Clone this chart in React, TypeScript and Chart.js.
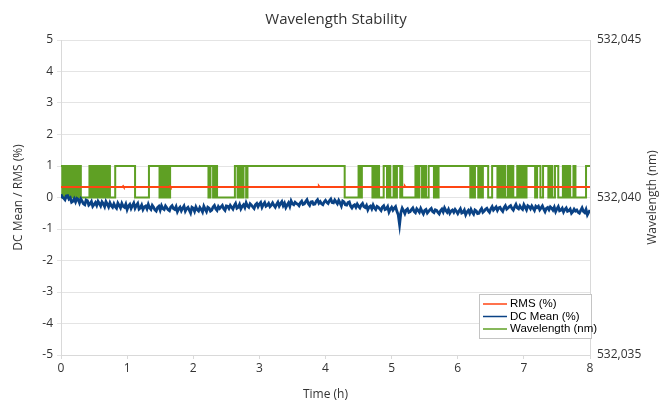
import React, { useEffect, useRef } from "react";
import { Chart, registerables } from "chart.js";

Chart.register(...registerables);

const chartTitle = "Wavelength Stability";
const xAxisTitle = "Time (h)";
const leftAxisTitle = "DC Mean / RMS (%)";
const rightAxisTitle = "Wavelength (nm)";
const seriesNames = ["RMS (%)", "DC Mean (%)", "Wavelength (nm)"];

const timeRange = [0, 8];
const leftAxisRange = [-5, 5];
const rightAxisRange = [532.035, 532.045];
const rightAxisStep = 0.005;

// DC mean (%), one reading every 0.02 h (20 readings per row = 0.4 h)
const dcSampleHours = 0.02;
const dcMean = [
  0.10, 0.01, -0.02, -0.07, 0.05, 0.06, -0.05, -0.01, -0.15, -0.12, -0.04, -0.14, -0.03, -0.06, -0.17, -0.05, -0.12, -0.20, -0.23, -0.08,
  -0.10, -0.24, -0.20, -0.13, -0.28, -0.22, -0.16, -0.25, -0.12, -0.19, -0.27, -0.14, -0.20, -0.29, -0.13, -0.21, -0.30, -0.17, -0.26, -0.31,
  -0.20, -0.29, -0.34, -0.18, -0.25, -0.33, -0.19, -0.28, -0.31, -0.21, -0.38, -0.27, -0.22, -0.35, -0.26, -0.18, -0.34, -0.25, -0.19, -0.37,
  -0.33, -0.24, -0.38, -0.30, -0.27, -0.36, -0.22, -0.33, -0.38, -0.25, -0.31, -0.39, -0.43, -0.32, -0.28, -0.40, -0.26, -0.35, -0.38, -0.27,
  -0.33, -0.39, -0.42, -0.30, -0.26, -0.35, -0.38, -0.29, -0.45, -0.36, -0.31, -0.42, -0.34, -0.27, -0.43, -0.35, -0.31, -0.40, -0.49, -0.31,
  -0.34, -0.44, -0.30, -0.39, -0.43, -0.32, -0.38, -0.46, -0.28, -0.37, -0.45, -0.31, -0.34, -0.43, -0.40, -0.30, -0.25, -0.36, -0.41, -0.29,
  -0.35, -0.30, -0.25, -0.36, -0.41, -0.27, -0.28, -0.35, -0.25, -0.31, -0.37, -0.26, -0.19, -0.34, -0.31, -0.22, -0.36, -0.28, -0.23, -0.32,
  -0.17, -0.27, -0.31, -0.20, -0.24, -0.30, -0.35, -0.23, -0.19, -0.29, -0.21, -0.16, -0.31, -0.22, -0.16, -0.28, -0.25, -0.19, -0.29, -0.24,
  -0.17, -0.25, -0.31, -0.22, -0.15, -0.27, -0.19, -0.13, -0.26, -0.18, -0.32, -0.24, -0.17, -0.28, -0.11, -0.20, -0.23, -0.15, -0.19, -0.21,
  -0.26, -0.17, -0.12, -0.22, -0.20, -0.13, -0.07, -0.19, -0.25, -0.14, -0.13, -0.22, -0.21, -0.12, -0.07, -0.18, -0.13, -0.20, -0.23, -0.14,
  -0.09, -0.15, -0.19, -0.10, -0.05, -0.16, -0.17, -0.08, -0.14, -0.20, -0.09, -0.17, -0.27, -0.11, -0.14, -0.23, -0.24, -0.16, -0.14, -0.27,
  -0.33, -0.26, -0.23, -0.31, -0.21, -0.28, -0.33, -0.24, -0.19, -0.29, -0.32, -0.25, -0.39, -0.30, -0.27, -0.36, -0.24, -0.33, -0.38, -0.28,
  -0.31, -0.36, -0.41, -0.30, -0.26, -0.38, -0.36, -0.29, -0.46, -0.37, -0.31, -0.40, -0.34, -0.29, -0.44, -0.55, -0.86, -0.48, -0.34, -0.42,
  -0.51, -0.40, -0.36, -0.47, -0.45, -0.38, -0.33, -0.44, -0.48, -0.36, -0.41, -0.47, -0.35, -0.44, -0.52, -0.41, -0.38, -0.49, -0.44, -0.39,
  -0.35, -0.45, -0.48, -0.39, -0.41, -0.47, -0.52, -0.42, -0.37, -0.46, -0.33, -0.41, -0.47, -0.38, -0.50, -0.43, -0.40, -0.47, -0.38, -0.44,
  -0.51, -0.43, -0.36, -0.49, -0.47, -0.40, -0.55, -0.46, -0.41, -0.50, -0.38, -0.47, -0.53, -0.40, -0.43, -0.51, -0.50, -0.41, -0.35, -0.47,
  -0.43, -0.37, -0.34, -0.42, -0.47, -0.36, -0.29, -0.40, -0.35, -0.30, -0.41, -0.33, -0.31, -0.39, -0.44, -0.32, -0.26, -0.37, -0.33, -0.29,
  -0.26, -0.35, -0.40, -0.30, -0.22, -0.33, -0.36, -0.27, -0.34, -0.38, -0.23, -0.31, -0.39, -0.26, -0.29, -0.36, -0.27, -0.34, -0.41, -0.28,
  -0.32, -0.28, -0.39, -0.33, -0.27, -0.37, -0.45, -0.35, -0.32, -0.39, -0.30, -0.34, -0.40, -0.31, -0.45, -0.36, -0.29, -0.42, -0.40, -0.34,
  -0.46, -0.38, -0.33, -0.44, -0.42, -0.37, -0.50, -0.45, -0.37, -0.43, -0.40, -0.47, -0.50, -0.41, -0.33, -0.44, -0.48, -0.38, -0.55, -0.47,
  -0.40,
];

// RMS (%)
const rmsTimes = [0, 0.93, 0.94, 0.95, 1.64, 1.65, 1.66, 3.89, 3.9, 3.91, 5.19, 5.2, 5.21, 8];
const rmsValues = [0.33, 0.33, 0.36, 0.33, 0.33, 0.36, 0.33, 0.33, 0.36, 0.33, 0.33, 0.36, 0.33, 0.33];

// Wavelength (nm): value held from each time until the next one
const HI = 532.041;
const LO = 532.04;
const wlTimes = [
  0, 0.02, 0.04, 0.06, 0.09, 0.11, 0.13, 0.16, 0.18, 0.2, 0.23, 0.25, 0.27, 0.3,
  0.43, 0.45, 0.48, 0.5, 0.52, 0.55, 0.57, 0.6, 0.62, 0.64, 0.67, 0.69, 0.72, 0.74,
  0.82, 1.12, 1.33,
  1.49, 1.51, 1.54, 1.56, 1.58, 1.61, 1.63, 1.65,
  2.23, 2.26, 2.3, 2.33, 2.36,
  2.63, 2.67, 2.7, 2.73, 2.76, 2.8, 2.82,
  4.29, 4.5, 4.52, 4.55, 4.71, 4.73, 4.76, 4.78, 4.81, 4.88, 4.93, 4.95, 4.98, 5.03, 5.05, 5.08, 5.13, 5.14, 5.16,
  5.36, 5.39, 5.42, 5.46, 5.49, 5.52, 5.56, 5.64, 5.66, 5.69, 5.71,
  6.19, 6.21, 6.23, 6.26, 6.31, 6.33, 6.36, 6.38, 6.46, 6.52, 6.6, 6.62, 6.64, 6.66, 6.68, 6.7, 6.72, 6.76, 6.79, 6.81, 6.84, 6.9, 6.92, 6.94, 6.97, 6.99, 7.02, 7.04,
  7.17, 7.2, 7.25, 7.29, 7.37, 7.4, 7.43, 7.47, 7.52, 7.59, 7.61, 7.63, 7.66, 7.68, 7.7, 7.75, 7.78, 7.94,
  8,
];
const wlValues = [
  HI, LO, HI, LO, HI, LO, HI, LO, HI, LO, HI, LO, HI, LO,
  HI, LO, HI, LO, HI, LO, HI, LO, HI, LO, HI, LO, HI, LO,
  HI, LO, HI,
  LO, HI, LO, HI, LO, HI, LO, HI,
  LO, HI, LO, HI, LO,
  HI, LO, HI, LO, HI, LO, HI,
  LO, HI, LO, HI, LO, HI, LO, HI, LO, HI, LO, HI, LO, HI, LO, HI, LO, HI, LO,
  HI, LO, HI, LO, HI, LO, HI, LO, HI, LO, HI,
  LO, HI, LO, HI, LO, HI, LO, HI, LO, HI, LO, HI, LO, HI, LO, HI, LO, HI, LO, HI, LO, HI, LO, HI, LO, HI, LO, HI,
  LO, HI, LO, HI, LO, HI, LO, HI, LO, HI, LO, HI, LO, HI, LO, HI, LO, HI,
  HI,
];

const colors = ["#ff4513", "#0a4285", "#5fa024"];
const textColor = "#333333";
const FONT = '"Open Sans", sans-serif';

const overlayPlugin = {
  id: "overlay",
  afterDraw(chart: any) {
    const ctx = chart.ctx as CanvasRenderingContext2D;
    ctx.save();
    // title
    ctx.fillStyle = textColor;
    ctx.font = `15px ${FONT}`;
    ctx.textAlign = "center";
    ctx.textBaseline = "middle";
    ctx.fillText(chartTitle, 336, 20);
    // right axis title (reads bottom to top)
    const area = chart.chartArea;
    ctx.save();
    ctx.translate(653, (area.top + area.bottom) / 2);
    ctx.rotate(-Math.PI / 2);
    ctx.font = `12px ${FONT}`;
    ctx.fillText(rightAxisTitle, 0, 0);
    ctx.restore();
    // legend box
    const bx = 479.5, by = 294.5, bw = 112, bh = 44;
    ctx.fillStyle = "#ffffff";
    ctx.fillRect(bx, by, bw, bh);
    ctx.strokeStyle = "#c4c4c4";
    ctx.lineWidth = 1;
    ctx.strokeRect(bx, by, bw, bh);
    ctx.font = '11.5px "Liberation Sans", Arial, sans-serif';
    ctx.textAlign = "left";
    ctx.textBaseline = "middle";
    chart.data.datasets.forEach((ds: any, i: number) => {
      const y = 304 + i * 12.5;
      ctx.strokeStyle = ds.borderColor;
      ctx.lineWidth = 1.5;
      ctx.beginPath();
      ctx.moveTo(483, y);
      ctx.lineTo(507, y);
      ctx.stroke();
      ctx.fillStyle = "#000000";
      ctx.fillText(ds.label, 510, y);
    });
    ctx.restore();
  },
};

export default function App() {
  const canvasRef = useRef<HTMLCanvasElement | null>(null);

  useEffect(() => {
    if (!canvasRef.current) return;
    const dcData = dcMean.map((v, i) => ({ x: i * dcSampleHours, y: v }));
    const rmsData = rmsTimes.map((t, i) => ({ x: t, y: rmsValues[i] }));
    const wlData = wlTimes.map((t, i) => ({ x: t, y: wlValues[i] }));

    const chart = new Chart(canvasRef.current, {
      type: "line",
      data: {
        datasets: [
          {
            label: seriesNames[0],
            data: rmsData,
            borderColor: colors[0],
            backgroundColor: colors[0],
            borderWidth: 2,
            pointRadius: 0,
            yAxisID: "y",
            tension: 0,
          },
          {
            label: seriesNames[1],
            data: dcData,
            borderColor: colors[1],
            backgroundColor: colors[1],
            borderWidth: 2.8,
            pointRadius: 0,
            yAxisID: "y",
            tension: 0,
          },
          {
            label: seriesNames[2],
            data: wlData,
            borderColor: colors[2],
            backgroundColor: colors[2],
            borderWidth: 2,
            pointRadius: 0,
            yAxisID: "y2",
            stepped: true,
          },
        ],
      },
      options: {
        animation: false,
        responsive: false,
        devicePixelRatio: 1,
        layout: { padding: { top: 40, left: 0, right: 0, bottom: 0 } },
        plugins: {
          legend: { display: false },
          title: { display: false },
          tooltip: { enabled: false },
        },
        font: { family: FONT },
        scales: {
          x: {
            type: "linear",
            min: timeRange[0],
            max: timeRange[1],
            ticks: { stepSize: 1, color: textColor, font: { family: FONT, size: 12 }, padding: 2, maxRotation: 0 },
            grid: { display: true, drawOnChartArea: false, drawTicks: true, tickLength: 4, color: "#d9d9d9" },
            border: { display: true, color: "#d9d9d9" },
            title: { display: true, text: xAxisTitle, color: textColor, font: { family: FONT, size: 12 }, padding: { top: 0, bottom: 0 } },
            afterFit: (s: any) => { s.height = 47; },
          },
          y: {
            type: "linear",
            position: "left",
            min: leftAxisRange[0],
            max: leftAxisRange[1],
            ticks: { stepSize: 1, color: textColor, font: { family: FONT, size: 12 }, padding: 4 },
            grid: { color: "#e4e4e4", tickLength: 4 },
            border: { display: true, color: "#d9d9d9" },
            title: { display: true, text: leftAxisTitle, color: textColor, font: { family: FONT, size: 12 }, padding: { top: 11, bottom: 0 } },
            afterFit: (s: any) => { s.width = 61; },
          },
          y2: {
            type: "linear",
            position: "right",
            min: rightAxisRange[0],
            max: rightAxisRange[1],
            ticks: {
              stepSize: rightAxisStep,
              color: textColor,
              font: { family: FONT, size: 12 },
              padding: 7,
              callback: (v: any) => Number(v).toFixed(3).replace(".", ","),
            },
            grid: { display: true, drawOnChartArea: false, drawTicks: false },
            border: { display: true, color: "#d9d9d9" },
            afterFit: (s: any) => { s.width = 72; },
          },
        },
      },
      plugins: [overlayPlugin],
    } as any);
    return () => chart.destroy();
  }, []);

  return (
    <div style={{ position: "absolute", left: 0, top: 0, width: 662, height: 402, background: "#fff" }}>
      <canvas ref={canvasRef} width={662} height={402} style={{ display: "block" }} />
    </div>
  );
}
